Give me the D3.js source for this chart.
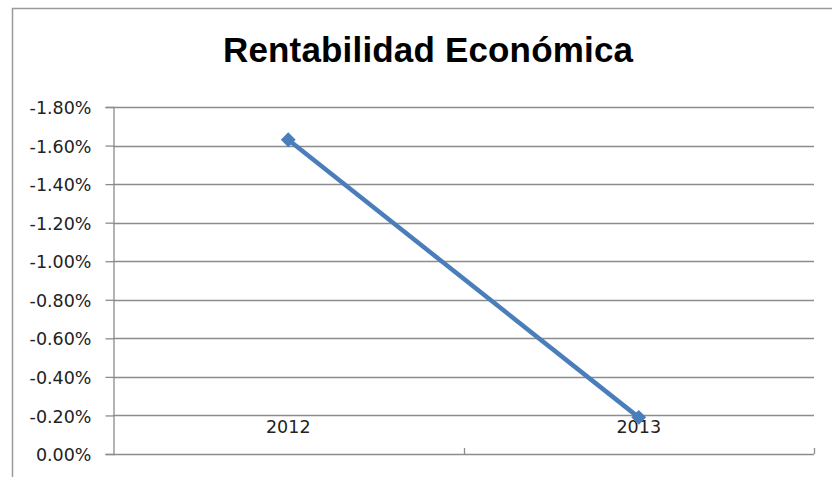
<!DOCTYPE html>
<html>
<head>
<meta charset="utf-8">
<title>Rentabilidad Económica</title>
<script src="https://d3js.org/d3.v7.min.js"></script>
<style>
    body { margin: 0; background: #fff; }
    svg { display: block; }
    .title { font-family: "Liberation Sans", Arial, sans-serif; font-weight: bold; font-size: 35px; fill: #000; }
    .axis text { font-family: "DejaVu Sans", sans-serif; font-size: 17.5px; fill: #222; }
</style>
</head>
<body>
<svg id="chart" width="832" height="477"></svg>
<script>
// data
let years = ["2012", "2013"]
let rentabilidad = [-0.0163, -0.0019]
let yTicks = [0, -0.002, -0.004, -0.006, -0.008, -0.010, -0.012, -0.014, -0.016, -0.018]

let width = 832, height = 477
let plot = {left: 113, right: 814, top: 107, bottom: 454}
let svg = d3.select("#chart")

// chart frame (cut off at right and bottom like the screenshot)
svg.append("rect")
    .attr("x", 12.5).attr("y", 8.5)
    .attr("width", 900).attr("height", 600)
    .attr("fill", "white")
    .attr("stroke", "#9a9a9a")
    .attr("stroke-width", 1.5)

svg.append("text")
    .attr("class", "title")
    .attr("x", 428).attr("y", 62)
    .attr("text-anchor", "middle")
    .attr("textLength", 410)
    .text("Rentabilidad Económica")

let x = d3.scaleBand().domain(years).range([plot.left, plot.right]).padding(0)
// reversed axis: 0% at bottom, -1.80% on top
let y = d3.scaleLinear().domain([0, -0.018]).range([plot.bottom, plot.top])

let loc = d3.formatLocale({decimal: ".", thousands: ",", grouping: [3], currency: ["$", ""], minus: "-", percent: "%"})
let fmt = loc.format(".2%")

// gridlines
svg.append("g")
    .selectAll("line")
    .data(yTicks.filter(d => d !== 0))
    .enter().append("line")
    .attr("x1", plot.left).attr("x2", plot.right)
    .attr("y1", d => Math.round(y(d)) + 0.5).attr("y2", d => Math.round(y(d)) + 0.5)
    .attr("stroke", "#8c8c8c")
    .attr("stroke-width", 1.3)

// y axis
let yAxis = svg.append("g")
    .attr("class", "axis")
    .attr("transform", `translate(${plot.left + 0.5},0)`)
    .call(d3.axisLeft(y).tickValues(yTicks).tickFormat(fmt).tickSize(8).tickPadding(14))
yAxis.select(".domain").attr("stroke", "#8c8c8c").attr("stroke-width", 1.3)
yAxis.selectAll(".tick line").attr("stroke", "#8c8c8c").attr("stroke-width", 1.3)
yAxis.selectAll(".tick text").attr("dy", "0.38em")

// x axis line with inward ticks at category boundaries
let xg = svg.append("g").attr("class", "axis")
xg.append("line")
    .attr("x1", plot.left).attr("x2", plot.right)
    .attr("y1", plot.bottom + 0.5).attr("y2", plot.bottom + 0.5)
    .attr("stroke", "#8c8c8c").attr("stroke-width", 1.3)
let bounds = years.map(d => x(d)).concat([x(years[years.length - 1]) + x.bandwidth()])
xg.selectAll(".btick")
    .data(bounds.slice(1))
    .enter().append("line")
    .attr("x1", d => Math.round(d) + 0.5).attr("x2", d => Math.round(d) + 0.5)
    .attr("y1", plot.bottom - 6).attr("y2", plot.bottom)
    .attr("stroke", "#8c8c8c").attr("stroke-width", 1.3)

// category labels (drawn above the axis because the value axis is reversed)
svg.append("g")
    .attr("class", "axis")
    .attr("transform", `translate(0,${plot.bottom})`)
    .call(d3.axisTop(x).tickSize(0).tickPadding(21))
    .call(g => g.select(".domain").remove())
    .selectAll("text").attr("dy", "0em")

// series
let pts = years.map((d, i) => ({year: d, value: rentabilidad[i]}))
let line = d3.line()
    .x(d => x(d.year) + x.bandwidth() / 2)
    .y(d => y(d.value))

svg.append("path")
    .datum(pts)
    .attr("d", line)
    .attr("fill", "none")
    .attr("stroke", "#4a7ebb")
    .attr("stroke-width", 4.5)

svg.selectAll(".marker")
    .data(pts)
    .enter().append("path")
    .attr("class", "marker")
    .attr("d", d3.symbol().type(d3.symbolSquare).size(110))
    .attr("transform", d => `translate(${x(d.year) + x.bandwidth() / 2},${y(d.value)}) rotate(45)`)
    .attr("fill", "#4a7ebb")
</script>
</body>
</html>
